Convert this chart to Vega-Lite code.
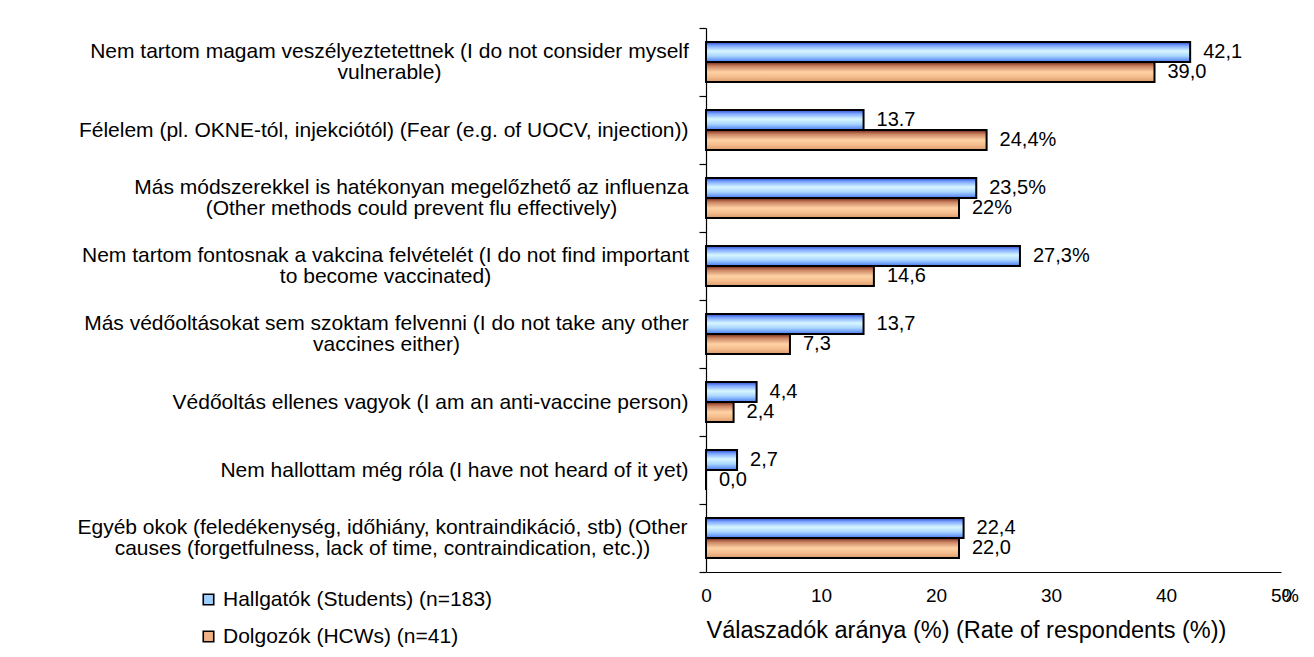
{
  "$schema": "https://vega.github.io/schema/vega-lite/v6.json",
  "width": 575,
  "height": 544,
  "autosize": "none",
  "padding": {"left": 706, "top": 28, "right": 33, "bottom": 85},
  "background": "white",
  "config": {
    "font": "Liberation Sans",
    "view": {"stroke": null},
    "axis": {"labelColor": "black", "titleColor": "black", "domainColor": "black", "tickColor": "black", "grid": false}
  },
  "data": {
    "values": [
      {"reason": "Nem tartom magam veszélyeztetettnek (I do not consider myself|vulnerable)", "group": "Hallgatók (Students) (n=183)", "pct": 42.1, "lbl": "42,1"},
      {"reason": "Nem tartom magam veszélyeztetettnek (I do not consider myself|vulnerable)", "group": "Dolgozók (HCWs) (n=41)", "pct": 39.0, "lbl": "39,0"},
      {"reason": "Félelem (pl. OKNE-tól, injekciótól) (Fear (e.g. of UOCV, injection))", "group": "Hallgatók (Students) (n=183)", "pct": 13.7, "lbl": "13.7"},
      {"reason": "Félelem (pl. OKNE-tól, injekciótól) (Fear (e.g. of UOCV, injection))", "group": "Dolgozók (HCWs) (n=41)", "pct": 24.4, "lbl": "24,4%"},
      {"reason": "Más módszerekkel is hatékonyan megelőzhető az influenza|(Other methods could prevent flu effectively)", "group": "Hallgatók (Students) (n=183)", "pct": 23.5, "lbl": "23,5%"},
      {"reason": "Más módszerekkel is hatékonyan megelőzhető az influenza|(Other methods could prevent flu effectively)", "group": "Dolgozók (HCWs) (n=41)", "pct": 22.0, "lbl": "22%"},
      {"reason": "Nem tartom fontosnak a vakcina felvételét (I do not find important|to become vaccinated)", "group": "Hallgatók (Students) (n=183)", "pct": 27.3, "lbl": "27,3%"},
      {"reason": "Nem tartom fontosnak a vakcina felvételét (I do not find important|to become vaccinated)", "group": "Dolgozók (HCWs) (n=41)", "pct": 14.6, "lbl": "14,6"},
      {"reason": "Más védőoltásokat sem szoktam felvenni (I do not take any other|vaccines either)", "group": "Hallgatók (Students) (n=183)", "pct": 13.7, "lbl": "13,7"},
      {"reason": "Más védőoltásokat sem szoktam felvenni (I do not take any other|vaccines either)", "group": "Dolgozók (HCWs) (n=41)", "pct": 7.3, "lbl": "7,3"},
      {"reason": "Védőoltás ellenes vagyok (I am an anti-vaccine person)", "group": "Hallgatók (Students) (n=183)", "pct": 4.4, "lbl": "4,4"},
      {"reason": "Védőoltás ellenes vagyok (I am an anti-vaccine person)", "group": "Dolgozók (HCWs) (n=41)", "pct": 2.4, "lbl": "2,4"},
      {"reason": "Nem hallottam még róla (I have not heard of it yet)", "group": "Hallgatók (Students) (n=183)", "pct": 2.7, "lbl": "2,7"},
      {"reason": "Nem hallottam még róla (I have not heard of it yet)", "group": "Dolgozók (HCWs) (n=41)", "pct": 0.0, "lbl": "0,0"},
      {"reason": "Egyéb okok (feledékenység, időhiány, kontraindikáció, stb) (Other|causes (forgetfulness, lack of time, contraindication, etc.))", "group": "Hallgatók (Students) (n=183)", "pct": 22.4, "lbl": "22,4"},
      {"reason": "Egyéb okok (feledékenység, időhiány, kontraindikáció, stb) (Other|causes (forgetfulness, lack of time, contraindication, etc.))", "group": "Dolgozók (HCWs) (n=41)", "pct": 22.0, "lbl": "22,0"}
    ]
  },
  "encoding": {
    "y": {
      "field": "reason", "type": "nominal", "sort": null,
      "scale": {
        "domain": [
          "Nem tartom magam veszélyeztetettnek (I do not consider myself|vulnerable)",
          "Félelem (pl. OKNE-tól, injekciótól) (Fear (e.g. of UOCV, injection))",
          "Más módszerekkel is hatékonyan megelőzhető az influenza|(Other methods could prevent flu effectively)",
          "Nem tartom fontosnak a vakcina felvételét (I do not find important|to become vaccinated)",
          "Más védőoltásokat sem szoktam felvenni (I do not take any other|vaccines either)",
          "Védőoltás ellenes vagyok (I am an anti-vaccine person)",
          "Nem hallottam még róla (I have not heard of it yet)",
          "Egyéb okok (feledékenység, időhiány, kontraindikáció, stb) (Other|causes (forgetfulness, lack of time, contraindication, etc.))"
        ],
        "paddingInner": 0, "paddingOuter": 0
      },
      "axis": {
        "title": null,
        "labelExpr": "isString(datum.value) ? split(datum.value, '|') : ''",
        "labelFontSize": 21,
        "labelLineHeight": 21,
        "labelLimit": 1000,
        "labelOverlap": false,
        "labelAlign": {"expr": "isString(datum.value) && indexof(datum.value, '|') >= 0 ? 'center' : 'right'"},
        "labelPadding": {"expr": "!isString(datum.value) ? 11 : indexof(datum.value, 'veszélyeztetettnek') >= 0 ? 310 : indexof(datum.value, 'módszerekkel') >= 0 ? 288 : indexof(datum.value, 'fontosnak') >= 0 ? 314 : indexof(datum.value, 'szoktam') >= 0 ? 313 : indexof(datum.value, 'Egyéb') >= 0 ? 317 : 11"},
        "labelOffset": {"expr": "isString(datum.value) && indexof(datum.value, '|') >= 0 ? -10.5 : 0"},
        "tickSize": 7,
        "tickBand": "extent",
        "domainWidth": 1.2,
        "tickWidth": 1.2
      }
    },
    "yOffset": {
      "field": "group", "type": "nominal",
      "sort": ["Hallgatók (Students) (n=183)", "Dolgozók (HCWs) (n=41)"],
      "scale": {"domain": ["Hallgatók (Students) (n=183)", "Dolgozók (HCWs) (n=41)"], "paddingInner": 0, "paddingOuter": 0.7}
    }
  },
  "layer": [
    {
      "transform": [{"filter": "datum.group == 'Hallgatók (Students) (n=183)'"}],
      "mark": {
        "type": "bar", "stroke": "black", "strokeWidth": 2,
        "fill": {"gradient": "linear", "x1": 0, "y1": 0, "x2": 0, "y2": 1,
          "stops": [
            {"offset": 0, "color": "#2a46d0"},
            {"offset": 0.18, "color": "#7aa6ff"},
            {"offset": 0.45, "color": "#d8f7ff"},
            {"offset": 0.7, "color": "#a9d6ff"},
            {"offset": 1, "color": "#4a78f2"}
          ]}
      },
      "encoding": {
        "x": {
          "field": "pct", "type": "quantitative",
          "scale": {"domain": [0, 50], "nice": false},
          "axis": {
            "orient": "bottom",
            "values": [0, 10, 20, 30, 40, 50],
            "title": "Válaszadók aránya (%) (Rate of respondents (%))",
            "titleAnchor": "start",
            "titleAlign": "left",
            "titleFontSize": 23.5,
            "titleFontWeight": "normal",
            "titlePadding": 13,
            "labelFontSize": 19,
            "labelPadding": 14,
            "labelFlush": false,
            "ticks": false,
            "tickSize": 0,
            "domainWidth": 1.2
          }
        }
      }
    },
    {
      "transform": [{"filter": "datum.group == 'Dolgozók (HCWs) (n=41)'"}],
      "mark": {
        "type": "bar", "stroke": "black", "strokeWidth": 2,
        "fill": {"gradient": "linear", "x1": 0, "y1": 0, "x2": 0, "y2": 1,
          "stops": [
            {"offset": 0, "color": "#6e2416"},
            {"offset": 0.2, "color": "#c98260"},
            {"offset": 0.5, "color": "#ffd2a6"},
            {"offset": 0.75, "color": "#f5bc8c"},
            {"offset": 1, "color": "#d99a6c"}
          ]}
      },
      "encoding": {
        "x": {"field": "pct", "type": "quantitative", "scale": {"domain": [0, 50], "nice": false}, "axis": null}
      }
    },
    {
      "mark": {"type": "text", "align": "left", "baseline": "middle", "dx": 13, "fontSize": 20, "color": "black"},
      "encoding": {
        "x": {"field": "pct", "type": "quantitative", "scale": {"domain": [0, 50], "nice": false}, "axis": null},
        "text": {"field": "lbl"}
      }
    },
    {
      "mark": {"type": "square", "opacity": 0},
      "encoding": {
        "x": {
          "field": "pct", "type": "quantitative",
          "scale": {"domain": [0, 50], "nice": false},
          "axis": {
            "orient": "bottom",
            "values": [50],
            "labelExpr": "'%'",
            "title": null,
            "domain": false,
            "ticks": false,
            "tickSize": 0,
            "labelFontSize": 19,
            "labelPadding": 14,
            "labelOffset": 9,
            "labelFlush": false
          }
        },
        "color": {
          "field": "group", "type": "nominal",
          "scale": {"domain": ["Hallgatók (Students) (n=183)", "Dolgozók (HCWs) (n=41)"], "range": ["#9fcfff", "#f0b184"]},
          "legend": {
            "title": null,
            "orient": "none",
            "legendX": -508,
            "legendY": 561,
            "padding": 0,
            "symbolType": "square",
            "symbolSize": 110,
            "symbolStrokeColor": "black",
            "symbolStrokeWidth": 1.6,
            "symbolOpacity": 1,
            "labelFontSize": 21,
            "labelColor": "black",
            "labelOffset": 4,
            "labelLimit": 1000,
            "rowPadding": 15
          }
        }
      }
    }
  ],
  "resolve": {"scale": {"x": "independent"}, "axis": {"x": "independent"}}
}
